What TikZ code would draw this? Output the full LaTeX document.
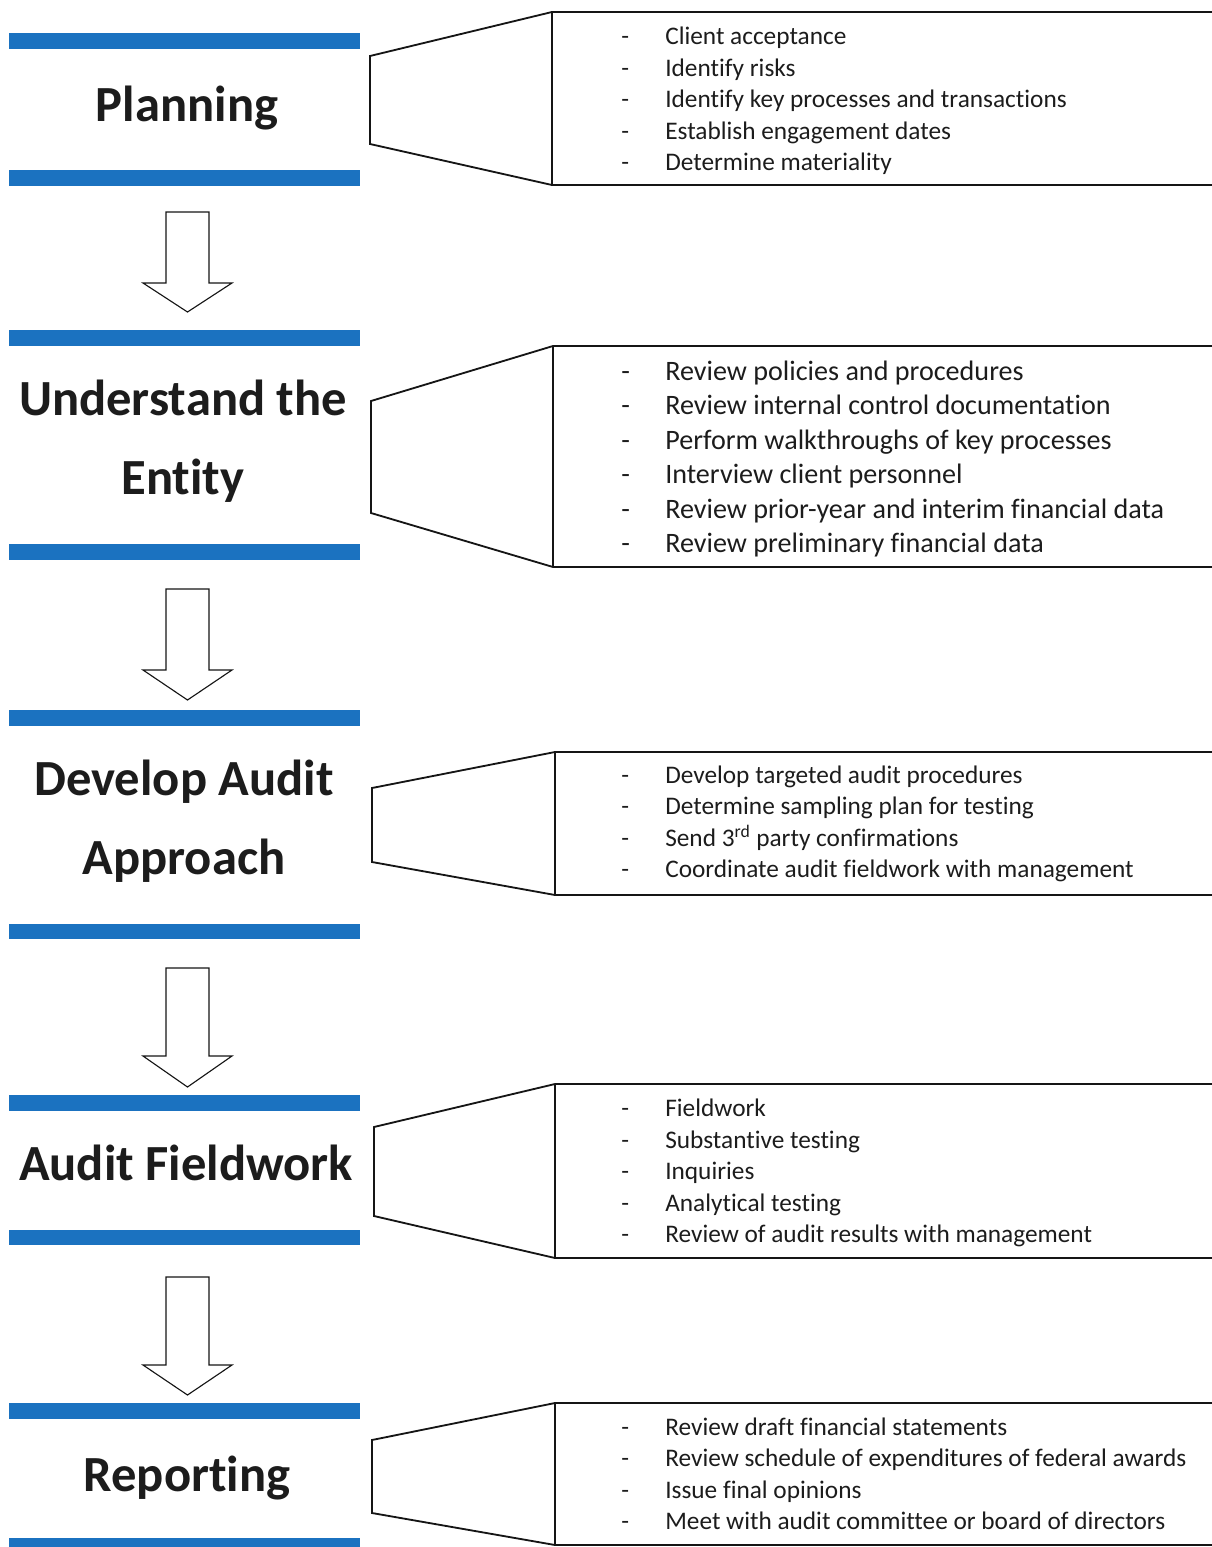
\documentclass[tikz,border=0pt]{standalone}
\usepackage{fontspec}
\setmainfont[RawFeature={-liga;-clig;-dlig;-calt}]{Carlito}
\definecolor{ink}{HTML}{1C1C1C}
\definecolor{rule}{HTML}{1B72C0}
\definecolor{outline}{HTML}{151515}
\newcommand{\taskdash}{\makebox[11mm][l]{-}}

\begin{document}
\begin{tikzpicture}[
  x=0.25mm, y=-0.25mm,
  text=ink,
  bar/.style={fill=rule},
  stage/.style={font=\fontsize{36}{56}\selectfont\bfseries, align=center, inner sep=0pt},
  tasks/.style={font=\fontsize{18}{22.4}\selectfont, align=left, inner sep=0pt, anchor=west},
  callout/.style={draw=outline, line width=1.3pt, line join=miter},
  flow/.style={draw=outline, line width=0.8pt, fill=white}
]
  \useasboundingbox (0,0) rectangle (1212,1547);

  % Planning
  \fill[bar] (9,33) rectangle (360,49);
  \fill[bar] (9,170) rectangle (360,186);
  \node[stage] (planning) at (187,108) {Planning};
  \draw[callout] (1240,12) -- (552,12) -- (370,56) -- (370,144) -- (552,185) -- (1240,185);
  \draw[callout] (552,12) -- (552,185);
  \node[tasks] (planlist) at (621,101)
    {\taskdash Client acceptance\\
     \taskdash Identify risks\\
     \taskdash Identify key processes and transactions\\
     \taskdash Establish engagement dates\\
     \taskdash Determine materiality};
  \draw[flow] (166,212) -- (209,212) -- (209,283) -- (232,283) -- (187.5,312)
    -- (143,283) -- (166,283) -- cycle;

  % Understand the entity
  \fill[bar] (9,330) rectangle (360,346);
  \fill[bar] (9,544) rectangle (360,560);
  \node[stage] (entity) at (183,441) {Understand the\\Entity};
  \draw[callout] (1240,346) -- (553,346) -- (371,401) -- (371,513) -- (553,567) -- (1240,567);
  \draw[callout] (553,346) -- (553,567);
  \node[tasks, font=\fontsize{20}{24.5}\selectfont] (entitylist) at (621,459)
    {\taskdash Review policies and procedures\\
     \taskdash Review internal control documentation\\
     \taskdash Perform walkthroughs of key processes\\
     \taskdash Interview client personnel\\
     \taskdash Review prior-year and interim financial data\\
     \taskdash Review preliminary financial data};
  \draw[flow] (166,589) -- (209,589) -- (209,670) -- (232,670) -- (187.5,700)
    -- (143,670) -- (166,670) -- cycle;

  % Develop audit approach
  \fill[bar] (9,710) rectangle (360,726);
  \fill[bar] (9,924) rectangle (360,939);
  \node[stage] (approach) at (184,821) {Develop Audit\\Approach};
  \draw[callout] (1240,752) -- (555,752) -- (372,788) -- (372,862) -- (555,895) -- (1240,895);
  \draw[callout] (555,752) -- (555,895);
  \node[tasks] (approachlist) at (621,824)
    {\taskdash Develop targeted audit procedures\\
     \taskdash Determine sampling plan for testing\\
     \taskdash Send 3\textsuperscript{rd} party confirmations\\
     \taskdash Coordinate audit fieldwork with management};
  \draw[flow] (166,968) -- (209,968) -- (209,1056) -- (232,1056) -- (187.5,1087)
    -- (143,1056) -- (166,1056) -- cycle;

  % Audit fieldwork
  \fill[bar] (9,1095) rectangle (360,1111);
  \fill[bar] (9,1230) rectangle (360,1245);
  \node[stage] (fieldwork) at (186,1163) {Audit Fieldwork};
  \draw[callout] (1240,1084) -- (555,1084) -- (374,1127) -- (374,1216) -- (555,1258) -- (1240,1258);
  \draw[callout] (555,1084) -- (555,1258);
  \node[tasks] (fieldworklist) at (621,1173)
    {\taskdash Fieldwork\\
     \taskdash Substantive testing\\
     \taskdash Inquiries\\
     \taskdash Analytical testing\\
     \taskdash Review of audit results with management};
  \draw[flow] (166,1277) -- (209,1277) -- (209,1365) -- (232,1365) -- (187.5,1395)
    -- (143,1365) -- (166,1365) -- cycle;

  % Reporting
  \fill[bar] (9,1403) rectangle (360,1419);
  \fill[bar] (9,1538) rectangle (360,1554);
  \node[stage] (reporting) at (187,1478) {Reporting};
  \draw[callout] (1240,1403) -- (555,1403) -- (372,1440) -- (372,1513) -- (555,1545) -- (1240,1545);
  \draw[callout] (555,1403) -- (555,1545);
  \node[tasks] (reportinglist) at (621,1474)
    {\taskdash Review draft financial statements\\
     \taskdash Review schedule of expenditures of federal awards\\
     \taskdash Issue final opinions\\
     \taskdash Meet with audit committee or board of directors};
\end{tikzpicture}
\end{document}
